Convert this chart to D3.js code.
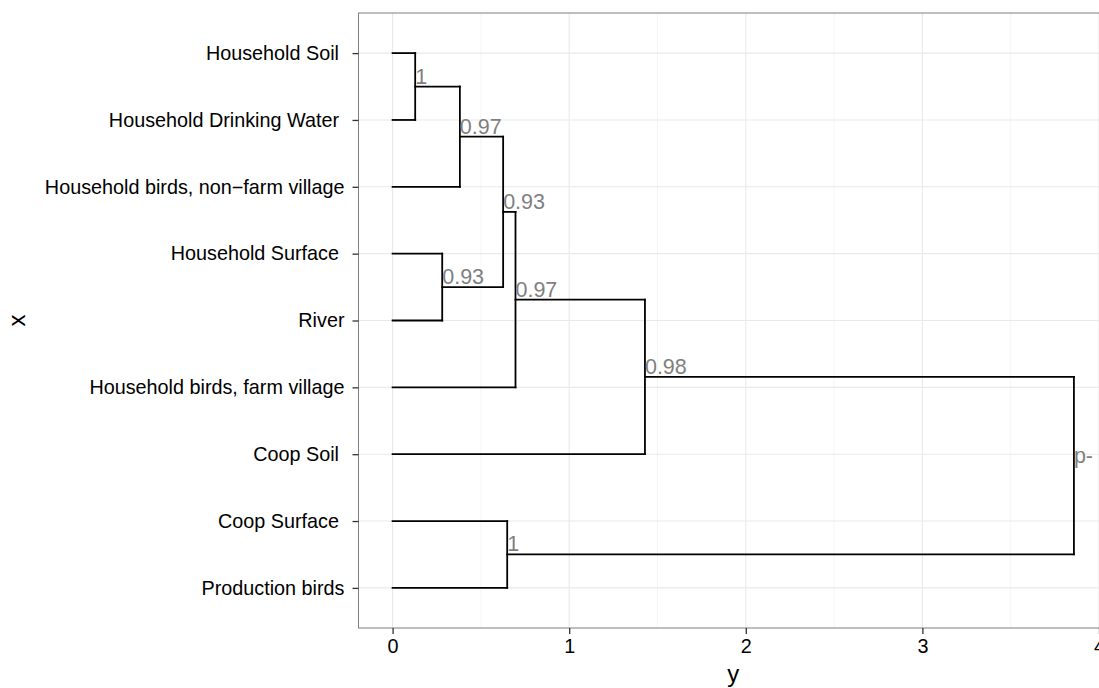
<!DOCTYPE html>
<html>
<head>
<meta charset="utf-8">
<script src="https://cdn.jsdelivr.net/npm/d3@7"></script>
<style>
  body { margin: 0; background: #fff; }
  text { font-family: "Liberation Sans", Arial, Helvetica, sans-serif; }
</style>
</head>
<body>
<script>
//leaves, top to bottom (trailing spaces are in the original labels)
var leaves = ["Household Soil ", "Household Drinking Water ", "Household birds, non\u2212farm village",
              "Household Surface ", "River", "Household birds, farm village",
              "Coop Soil ", "Coop Surface ", "Production birds"];

//hclust style merges: negative = leaf number, positive = earlier merge step
var mergeLeft   = [-1, 1, -4, 2, 4, 5, -8, 6];
var mergeRight  = [-2, -3, -5, 3, -6, -7, -9, 7];
var mergeHeight = [0.128, 0.381, 0.281, 0.626, 0.696, 1.429, 0.649, 3.858];
var mergeLabel  = ["1", "0.97", "0.93", "0.93", "0.97", "0.98", "1", "p-"];

var xTicks = [0, 1, 2, 3, 4];
var xMinor = [0.5, 1.5, 2.5, 3.5];

var width = 1099, height = 688;
var panel = {left: 358.5, right: 1108, top: 13, bottom: 628};

var svg = d3.select('body')
            .append('svg')
            .attr('width', width)
            .attr('height', height);

var x = d3.scaleLinear()
          .domain([-0.193, 4.051])
          .range([panel.left, panel.right]);

var y = d3.scalePoint()
          .domain(leaves)
          .range([panel.top, panel.bottom])
          .padding(0.6);

//position of a child (leaf or merge) -> {h, y}
var nodes = [];
var child = function(c){
  if(c < 0) return {h: 0, y: y(leaves[-c - 1])};
  return nodes[c - 1];
};
for(var i = 0; i < mergeHeight.length; i++){
  var a = child(mergeLeft[i]), b = child(mergeRight[i]);
  nodes.push({h: mergeHeight[i], y: (a.y + b.y) / 2, a: a, b: b, label: mergeLabel[i]});
}

//grid
var grid = svg.append('g');
grid.selectAll('.minor')
    .data(xMinor).enter().append('line')
    .attr('x1', function(d){return x(d)}).attr('x2', function(d){return x(d)})
    .attr('y1', panel.top).attr('y2', panel.bottom)
    .style('stroke', '#f5f5f5').style('stroke-width', 1);
grid.selectAll('.major')
    .data(xTicks).enter().append('line')
    .attr('x1', function(d){return x(d)}).attr('x2', function(d){return x(d)})
    .attr('y1', panel.top).attr('y2', panel.bottom)
    .style('stroke', '#e9e9e9').style('stroke-width', 1.1);
grid.selectAll('.hmajor')
    .data(leaves).enter().append('line')
    .attr('x1', panel.left).attr('x2', panel.right)
    .attr('y1', function(d){return y(d)}).attr('y2', function(d){return y(d)})
    .style('stroke', '#e9e9e9').style('stroke-width', 1.1);

//dendrogram segments
var segs = [];
nodes.forEach(function(n){
  segs.push([n.h, n.a.y, n.h, n.b.y]);
  segs.push([n.a.h, n.a.y, n.h, n.a.y]);
  segs.push([n.b.h, n.b.y, n.h, n.b.y]);
});
svg.append('g').selectAll('line')
   .data(segs).enter().append('line')
   .attr('x1', function(d){return x(d[0])}).attr('y1', function(d){return d[1]})
   .attr('x2', function(d){return x(d[2])}).attr('y2', function(d){return d[3]})
   .style('stroke', '#000').style('stroke-width', 1.8)
   .style('stroke-linecap', 'square');

//support values
svg.append('g').selectAll('text')
   .data(nodes).enter().append('text')
   .attr('x', function(d){return x(d.h)})
   .attr('y', function(d){return d.y - 3})
   .style('font-size', '21.5px')
   .style('fill', '#7f7f7f')
   .text(function(d){return d.label});

//panel border
svg.append('rect')
   .attr('x', panel.left).attr('y', panel.top)
   .attr('width', panel.right - panel.left).attr('height', panel.bottom - panel.top)
   .style('fill', 'none').style('stroke', '#7f7f7f').style('stroke-width', 1);

//axes
var xAxis = svg.append('g')
               .attr('transform', 'translate(0,' + panel.bottom + ')')
               .call(d3.axisBottom(x).tickValues(xTicks).tickSize(6).tickPadding(5).tickFormat(d3.format('d')));
var yAxis = svg.append('g')
               .attr('transform', 'translate(' + panel.left + ',0)')
               .call(d3.axisLeft(y).tickSize(6).tickPadding(8));
[xAxis, yAxis].forEach(function(ax){
  ax.select('.domain').remove();
  ax.selectAll('.tick line').style('stroke', '#333').style('stroke-width', 1.3);
  ax.selectAll('.tick text')
    .style('font-size', '19.8px')
    .style('fill', '#000')
    .style('font-family', '"Liberation Sans", Arial, Helvetica, sans-serif')
    .attr('xml:space', 'preserve')
    .style('white-space', 'pre');
});

//axis titles
svg.append('text')
   .attr('x', (panel.left + panel.right) / 2)
   .attr('y', 682)
   .attr('text-anchor', 'middle')
   .style('font-size', '24px')
   .text('y');
svg.append('text')
   .attr('transform', 'translate(25,' + (panel.top + panel.bottom) / 2 + ') rotate(-90)')
   .attr('text-anchor', 'middle')
   .style('font-size', '24px')
   .text('x');
</script>
</body>
</html>
